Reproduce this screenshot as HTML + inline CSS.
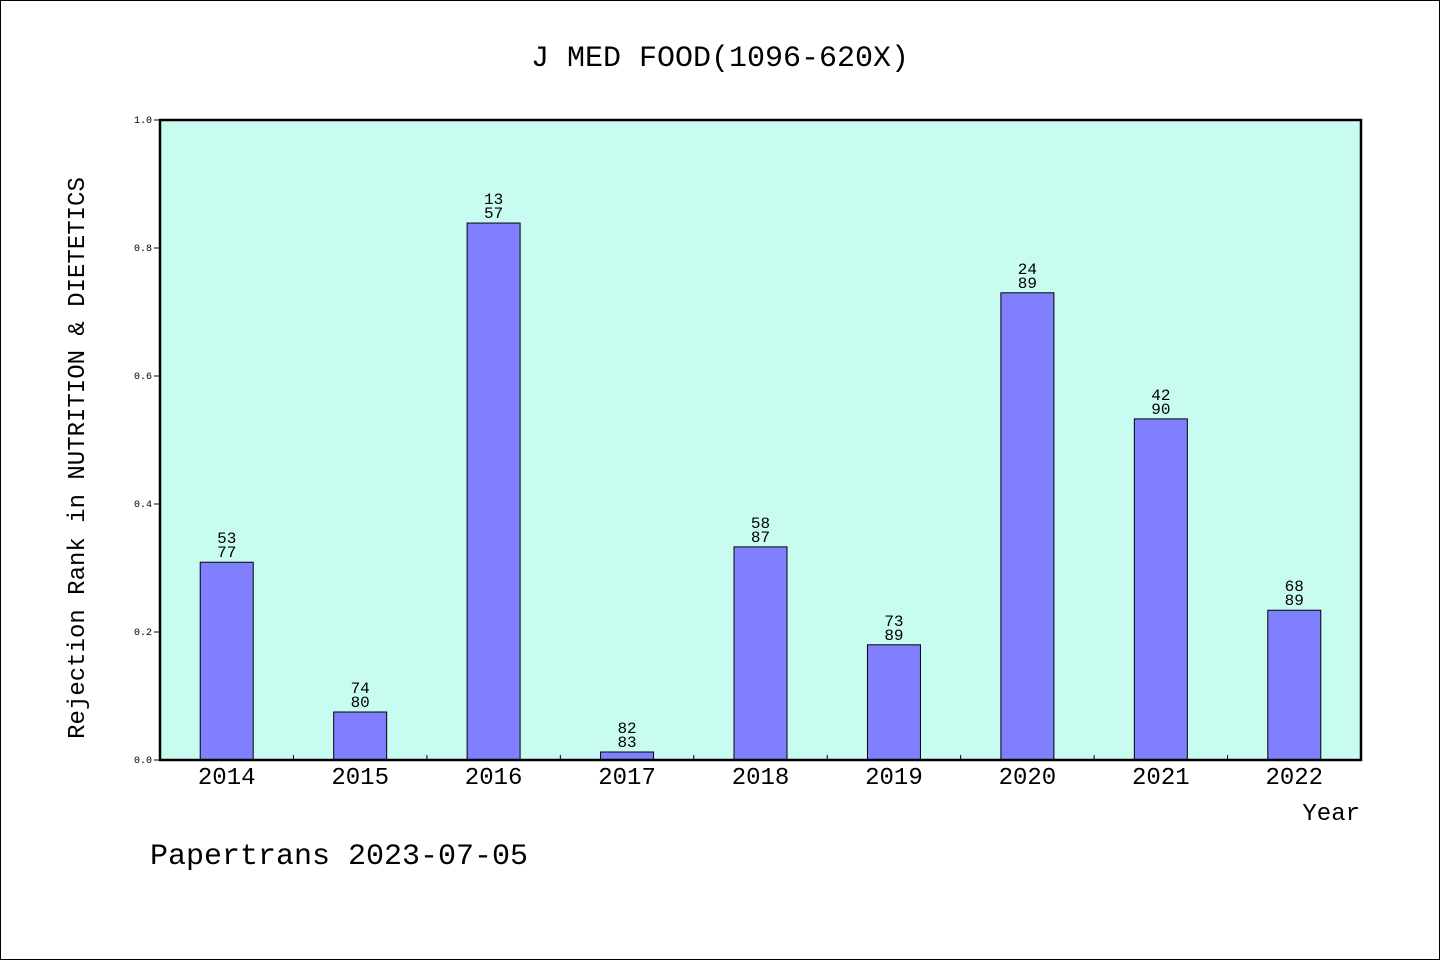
<!DOCTYPE html>
<html><head><meta charset="utf-8"><style>
html,body{margin:0;padding:0;background:#fff}
svg{display:block}
text{font-family:"Liberation Mono","WenQuanYi Zen Hei",monospace;fill:#000}
</style></head><body>
<svg width="1440" height="960" viewBox="0 0 1440 960">
<rect x="0.5" y="0.5" width="1439" height="959" fill="#fff" stroke="#000"/>
<text x="720" y="66" font-size="30" text-anchor="middle">J MED FOOD(1096-620X)</text>
<rect x="160" y="120" width="1201" height="640" fill="#c8fcf0"/>
<g id="ticks"></g>
<g id="bars"></g>
<rect x="160" y="120" width="1201" height="640" fill="none" stroke="#000" stroke-width="2.5"/>
<text transform="translate(84,458) rotate(-90)" font-size="24" text-anchor="middle">Rejection Rank in NUTRITION &amp; DIETETICS</text>
<text x="1360" y="820" font-size="24" text-anchor="end">Year</text>
<text x="150" y="864" font-size="30">Papertrans 2023-07-05</text>
</svg>
<script>
const years=["2014","2015","2016","2017","2018","2019","2020","2021","2022"];
const values=[0.309,0.075,0.839,0.0125,0.333,0.18,0.730,0.533,0.234];
const ranks=["53","74","13","82","58","73","24","42","68"];
const totals=["77","80","57","83","87","89","89","90","89"];
const yTicks=[0,0.2,0.4,0.6,0.8,1.0];
const X0=160,X1=1361,Y0=760,Y1=120,n=years.length,bw=(X1-X0)/n;
const y=v=>Y0-(v)*(Y0-Y1);
const xc=i=>X0+bw*(i+0.5);
const NS="http://www.w3.org/2000/svg";
function mk(tag,attrs,parent,txt){const e=document.createElementNS(NS,tag);for(const k in attrs)e.setAttribute(k,attrs[k]);if(txt!==undefined)e.textContent=txt;parent.appendChild(e);return e;}
const tg=document.getElementById('ticks'),bg=document.getElementById('bars');
yTicks.forEach(t=>{
 const l=mk('line',{x1:X0-6,x2:X0,y1:y(t),y2:y(t),stroke:'#000'},tg);
 
 
 const tx=mk('text',{x:X0-8,y:y(t)+3,'font-size':10,'text-anchor':'end'},tg,t.toFixed(1));
 
 
});
for(let i=1;i<n;i++){
 const l=mk('line',{x1:X0+bw*i,x2:X0+bw*i,y1:Y0-5,y2:Y0,stroke:'#000'},tg);
 
 
}
years.forEach((yr,i)=>{
 const w=53,top=y(values[i]);
 const r=mk('rect',{x:xc(i)-w/2,y:top,width:w,height:Y0-top,fill:'#8080ff',stroke:'#000','stroke-width':1},bg);
 
 
 const a=mk('text',{x:xc(i),y:top-19,'font-size':16,'text-anchor':'middle'},bg,ranks[i]);
 
 
 const b=mk('text',{x:xc(i),y:top-5,'font-size':16,'text-anchor':'middle'},bg,totals[i]);
 
 
 const xl=mk('text',{x:xc(i),y:784,'font-size':24,'text-anchor':'middle'},bg,yr);
 
 
});
</script>
</body></html>
